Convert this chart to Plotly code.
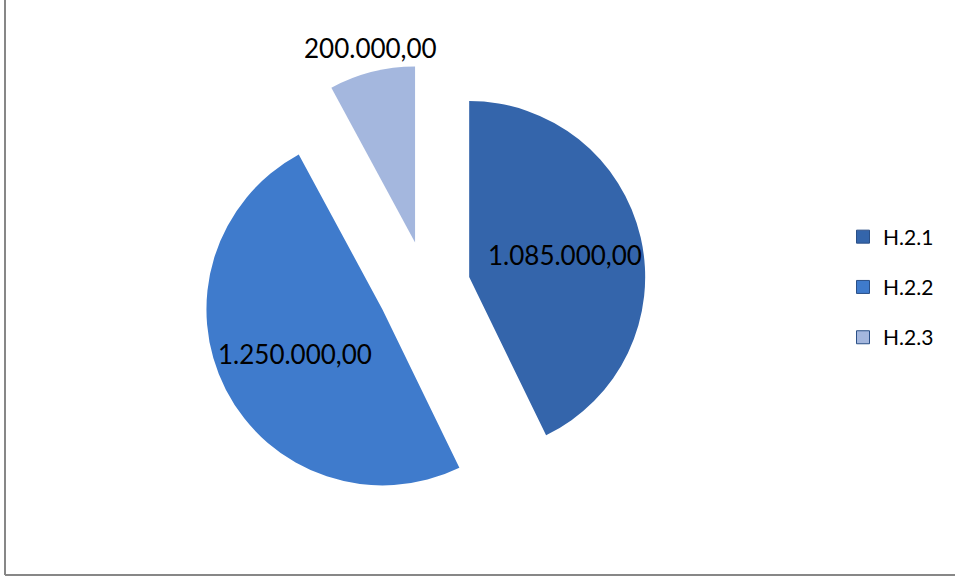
import math
import plotly.graph_objects as go

labels = ["H.2.1", "H.2.2", "H.2.3"]
values = [1085000, 1250000, 200000]
text_labels = ["1.085.000,00", "1.250.000,00", "200.000,00"]
colors = ["#3465AB", "#3F7BCC", "#A4B7DE"]
pulls = [0.25, 0.28, 0.26]
label_inside = [True, True, False]

W, H = 955, 579
# pie geometry (pixels)
cx, cy = 426.3, 286.9
r = 176.0
dim = 2 * r * (1 + max(pulls))

fig = go.Figure()
fig.add_trace(go.Pie(
    labels=labels,
    values=values,
    textinfo="none",
    sort=False,
    direction="clockwise",
    rotation=0,
    pull=pulls,
    marker=dict(colors=colors, line=dict(width=0)),
    showlegend=False,
    domain=dict(x=[(cx - dim / 2) / W, (cx + dim / 2) / W],
                y=[(H - (cy + dim / 2)) / H, (H - (cy - dim / 2)) / H]),
    hoverinfo="label+value",
))

# data labels, placed along each slice's mid-angle
total = sum(values)
cum = 0
for v, txt, pull, inside in zip(values, text_labels, pulls, label_inside):
    mid = (cum + v / 2) / total * 2 * math.pi
    cum += v
    dx, dy = math.sin(mid), -math.cos(mid)
    pcx, pcy = cx + pull * r * dx, cy + pull * r * dy
    if inside:
        dist = 0.56 * r
        yanchor = "middle"
    else:
        dist = r + 6
        yanchor = "bottom"
    fig.add_annotation(x=(pcx + dist * dx) / W, y=1 - (pcy + dist * dy) / H,
                       xref="paper", yref="paper", text=txt, showarrow=False,
                       xanchor="center", yanchor=yanchor,
                       font=dict(family="Lato", size=26, color="black"))

# legend entries (one per category)
for lab, col in zip(labels, colors):
    fig.add_trace(go.Scatter(
        x=[None], y=[None], mode="markers", name=lab,
        legendgroup=lab,
        marker=dict(symbol="square", size=13, color=col,
                    line=dict(width=1, color="#2a4f86")),
    ))

fig.update_layout(
    width=W, height=H,
    margin=dict(l=0, r=0, t=0, b=0, autoexpand=False),
    paper_bgcolor="white",
    plot_bgcolor="white",
    xaxis=dict(visible=False),
    yaxis=dict(visible=False),
    legend=dict(x=843 / W, xanchor="left", y=(H - 287) / H, yanchor="middle",
                font=dict(family="Lato", size=21, color="black"),
                tracegroupgap=20, bgcolor="rgba(0,0,0,0)"),
    shapes=[
        dict(type="line", xref="paper", yref="paper", x0=5 / W, x1=5 / W,
             y0=4 / H, y1=1.0, line=dict(color="#878787", width=2)),
        dict(type="line", xref="paper", yref="paper", x0=5 / W, x1=1.0,
             y0=4 / H, y1=4 / H, line=dict(color="#878787", width=2)),
    ],
)

fig.write_html("out.html", config={"displayModeBar": False},
               post_script="document.body.style.margin='0';")
